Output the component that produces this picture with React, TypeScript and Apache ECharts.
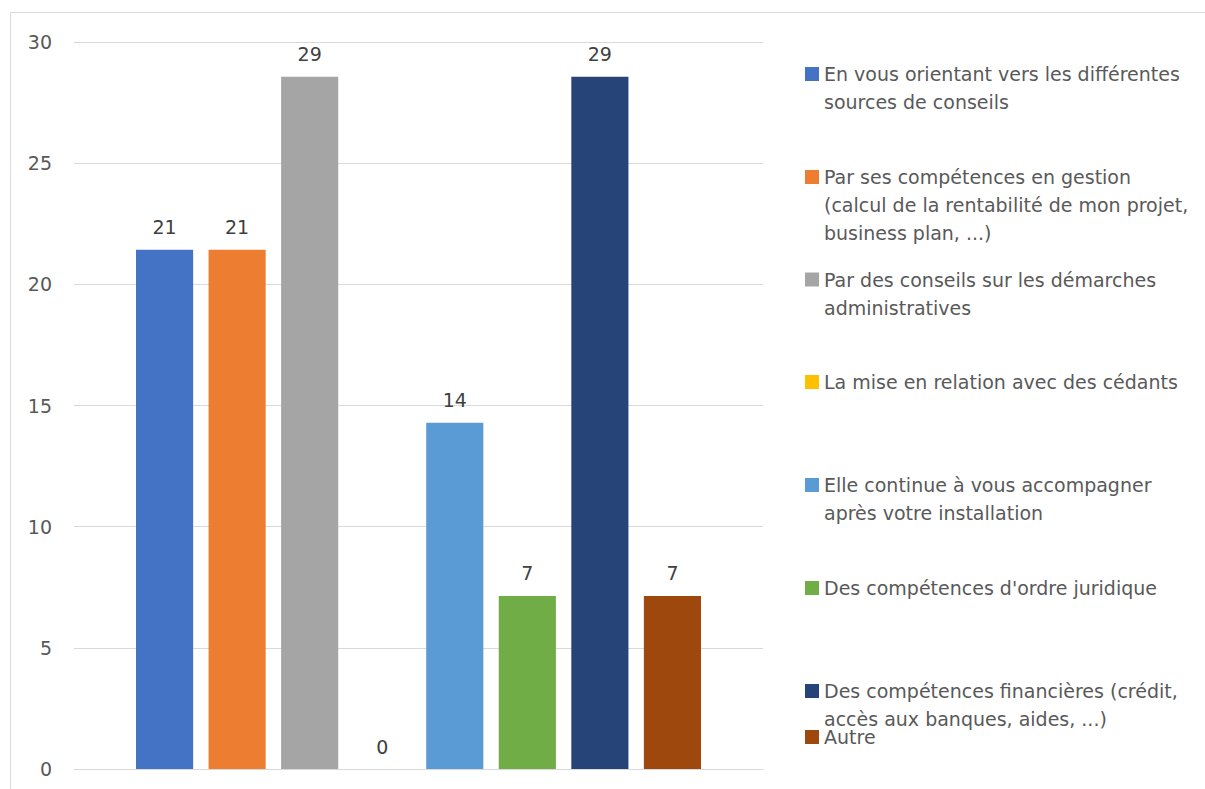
import React, { useEffect, useRef } from "react";
import * as echarts from "echarts";

const seriesNames = [
  "En vous orientant vers les différentes sources de conseils",
  "Par ses compétences en gestion (calcul de la rentabilité de mon projet, business plan, ...)",
  "Par des conseils sur les démarches administratives",
  "La mise en relation avec des cédants",
  "Elle continue à vous accompagner après votre installation",
  "Des compétences d'ordre juridique",
  "Des compétences financières (crédit, accès aux banques, aides, ...)",
  "Autre",
];
const legendLines = [
  ["En vous orientant vers les différentes", "sources de conseils"],
  ["Par ses compétences en gestion", "(calcul de la rentabilité de mon projet,", "business plan, ...)"],
  ["Par des conseils sur les démarches", "administratives"],
  ["La mise en relation avec des cédants"],
  ["Elle continue à vous accompagner", "après votre installation"],
  ["Des compétences d'ordre juridique"],
  ["Des compétences financières (crédit,", "accès aux banques, aides, ...)"],
  ["Autre"],
];
const values = [21.43, 21.43, 28.57, 0, 14.29, 7.14, 28.57, 7.14];
const colors = ["#4472C4", "#ED7D31", "#A5A5A5", "#FFC000", "#5B9BD5", "#70AD47", "#264478", "#9E480E"];
const categories = [""];
const yTicks = { min: 0, max: 30, interval: 5 };

const FONT = "'DejaVu Sans', sans-serif";
const FS = 19;
const legendCenters = [74, 177, 279.5, 382, 485, 588, 691, 737];
const LH = 28;

export default function App() {
  const ref = useRef<HTMLDivElement>(null);
  useEffect(() => {
    document.body.style.margin = "0";
    const chart = echarts.init(ref.current!, null, { renderer: "svg" });
    const legends = seriesNames.map((name, i) => {
      const n = legendLines[i].length;
      const text = "\n".repeat(n - 1) + legendLines[i].join("\n");
      return {
        data: [name],
        left: 805,
        top: legendCenters[i] - LH * n + 14,
        padding: 0,
        orient: "vertical",
        icon: "rect",
        itemWidth: 14,
        itemHeight: 14,
        itemGap: 6,
        selectedMode: false,
        formatter: () => text,
        textStyle: {
          fontFamily: FONT,
          fontSize: FS,
          color: "#595959",
          lineHeight: LH,
        },
      };
    });
    chart.setOption({
      animation: false,
      backgroundColor: "#ffffff",
      color: colors,
      textStyle: { fontFamily: FONT },
      graphic: [
        {
          type: "rect",
          shape: { x: 10.5, y: 12.5, width: 1300, height: 900 },
          style: { fill: "none", stroke: "#d9d9d9", lineWidth: 1 },
          silent: true,
        },
      ],
      grid: { left: 74, right: 1205 - 763, top: 42, bottom: 789 - 769, containLabel: false },
      legend: legends,
      xAxis: {
        type: "category",
        data: categories,
        axisLine: { show: true, lineStyle: { color: "#d9d9d9", width: 1 } },
        axisTick: { show: false },
        axisLabel: { show: false },
      },
      yAxis: {
        type: "value",
        min: yTicks.min,
        max: yTicks.max,
        interval: yTicks.interval,
        axisLine: { show: false },
        axisTick: { show: false },
        splitLine: { lineStyle: { color: "#d9d9d9", width: 1 } },
        axisLabel: { color: "#595959", fontSize: FS, fontFamily: FONT, margin: 22 },
      },
      series: seriesNames.map((name, i) => ({
        type: "bar",
        name,
        data: [values[i]],
        barGap: "27%",
        barCategoryGap: "18%",
        itemStyle: { color: colors[i] },
        label: {
          show: true,
          position: "top",
          distance: 13,
          color: "#404040",
          fontSize: FS,
          fontFamily: FONT,
          formatter: (p: any) => String(Math.round(p.value)),
        },
      })),
    });
    return () => chart.dispose();
  }, []);
  return <div ref={ref} style={{ position: "fixed", left: 0, top: 0, width: 1205, height: 789 }} />;
}
